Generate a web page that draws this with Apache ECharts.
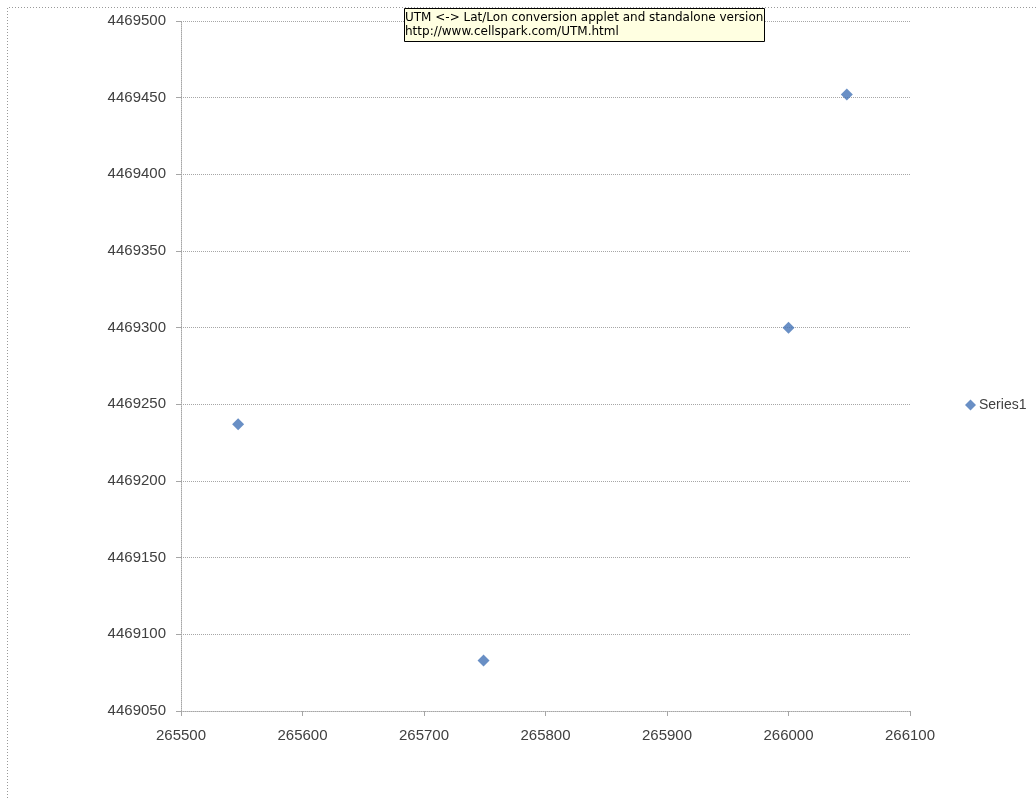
<!DOCTYPE html>
<html>
<head>
<meta charset="utf-8">
<script src="https://cdn.jsdelivr.net/npm/echarts@6/dist/echarts.min.js"></script>
<style>
  html, body { margin: 0; padding: 0; background: #fff; }
  #chart { width: 1036px; height: 798px; }
</style>
</head>
<body>
<div id="chart"></div>
<script>
(function() {
  var seriesName = 'Series1';
  var eastings = [265547, 265749, 266000, 266048];
  var northings = [4469237, 4469083, 4469300, 4469452];
  var noteLines = [
    'UTM <-> Lat/Lon conversion applet and standalone version',
    'http://www.cellspark.com/UTM.html'
  ];

  var points = eastings.map(function(x, i) { return [x, northings[i]]; });
  var blue = '#4373b6';
  var gridGray = '#a6a6a6';
  var labelColor = '#404040';
  var font = 'Liberation Sans';
  var plain = function(v) { return String(v); };

  var chart = echarts.init(document.getElementById('chart'), null, { renderer: 'canvas' });
  chart.setOption({
    animation: false,
    backgroundColor: '#fff',
    title: {
      text: noteLines.join('\n'),
      left: 404,
      top: 8,
      padding: [3, 1, 3, 1],
      backgroundColor: '#ffffe1',
      borderColor: '#000',
      borderWidth: 1,
      textStyle: {
        fontFamily: 'DejaVu Sans',
        fontSize: 12,
        fontWeight: 'normal',
        color: '#000',
        lineHeight: 14
      }
    },
    legend: {
      orient: 'vertical',
      left: 960,
      top: 393,
      icon: 'diamond',
      itemWidth: 11,
      itemHeight: 11,
      itemGap: 4,
      textStyle: { fontFamily: font, fontSize: 14, color: labelColor, padding: [0, 0, 0, -2] },
      data: [seriesName]
    },
    grid: { left: 181, right: 126, top: 21, bottom: 87 },
    xAxis: {
      type: 'value',
      min: 265500,
      max: 266100,
      interval: 100,
      axisLine: { lineStyle: { color: gridGray, type: 'dotted' } },
      axisTick: { show: true, length: 5, lineStyle: { color: gridGray } },
      axisLabel: { fontFamily: font, fontSize: 15, color: labelColor, margin: 17, formatter: plain },
      splitLine: { show: false }
    },
    yAxis: {
      type: 'value',
      min: 4469050,
      max: 4469500,
      interval: 50,
      axisLine: { show: true, lineStyle: { color: gridGray, type: 'dotted' } },
      axisTick: { show: true, length: 5, lineStyle: { color: gridGray } },
      axisLabel: { fontFamily: font, fontSize: 15, color: labelColor, margin: 15, formatter: plain },
      splitLine: { show: true, lineStyle: { color: gridGray, type: 'dotted' } }
    },
    series: [
      {
        name: seriesName,
        type: 'scatter',
        symbol: 'diamond',
        symbolSize: 12,
        itemStyle: { color: blue },
        data: points
      }
    ],
    graphic: [
      {
        type: 'polyline',
        silent: true,
        shape: { points: [[7.5, 798], [7.5, 7.5], [1036, 7.5]] },
        style: { stroke: '#999', lineWidth: 1, lineDash: [1, 2], fill: null }
      }
    ]
  });
  window.addEventListener('resize', function() { chart.resize(); });
})();
</script>
</body>
</html>
